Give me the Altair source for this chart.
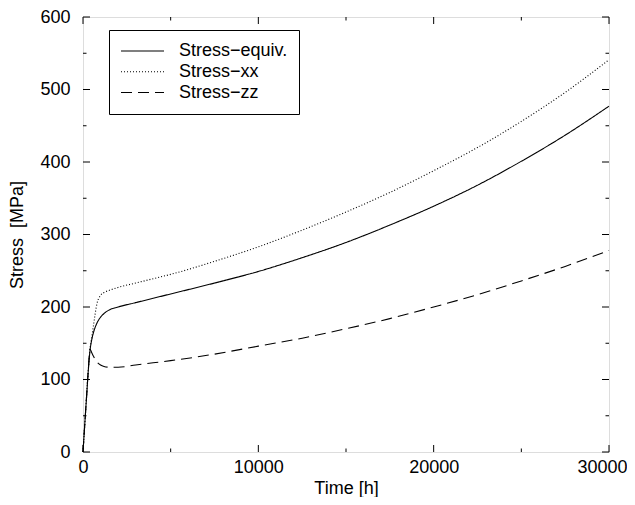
import altair as alt
import pandas as pd

# ---- data ----
time_h = [0, 100, 200, 300, 400, 500, 600, 800, 1000, 1200, 1500, 2000, 3000, 4000, 5000,
          7500, 10000, 12500, 15000, 17500, 20000, 22500, 25000, 27500, 30000]
stress_equiv = [0, 38, 75, 112, 140, 155, 165, 178, 186, 191, 196, 200, 206, 212, 218,
                233, 249, 268, 289, 313, 339, 368, 401, 437, 477]
stress_xx = [0, 38, 75, 112, 142, 158, 175, 205, 216, 220, 223, 227, 233, 239, 245,
             263, 283, 306, 331, 358, 388, 420, 456, 496, 541]
stress_zz = [0, 38, 75, 112, 142, 137, 132, 124, 120, 118, 117, 117, 120, 123, 126,
             135, 146, 157, 170, 184, 200, 217, 236, 256, 278]
series_names = ["Stress\u2212equiv.", "Stress\u2212xx", "Stress\u2212zz"]

x_major = [0, 10000, 20000, 30000]
x_minor = [5000, 15000, 25000]
y_major = [0, 100, 200, 300, 400, 500, 600]
y_minor = [50, 150, 250, 350, 450, 550]

# ---- styling ----
W, H = 526, 435
FONT = "Liberation Sans"
dashes = [[1, 0], [1, 2], [11, 6]]
MAJ, MIN = 7, 3.5

rows = []
for name, vals in zip(series_names, [stress_equiv, stress_xx, stress_zz]):
    for t, v in zip(time_h, vals):
        rows.append({"t": t, "s": v, "series": name})
df = pd.DataFrame(rows)

xscale = alt.Scale(domain=[0, 30000], nice=False, zero=False)
yscale = alt.Scale(domain=[0, 600], nice=False, zero=False)

x_axis = alt.Axis(values=x_major, format="d", title="Time [h]", grid=False,
                  ticks=False, tickSize=0, domain=False, labelFlush=False,
                  labelOverlap=False, labelFontSize=18, labelFont=FONT,
                  labelColor="black", labelPadding=6,
                  labelAlign={"expr": "datum.value == 30000 ? 'right' : 'center'"},
                  labelOffset={"expr": "datum.value == 30000 ? 18 : 0"},
                  titleFont=FONT, titleFontSize=18, titleFontWeight="normal",
                  titleColor="black", titlePadding=3)
y_axis = alt.Axis(values=y_major, format="d", title="Stress\u00a0\u00a0[MPa]", grid=False,
                  ticks=False, tickSize=0, domain=False, labelFlush=False,
                  labelOverlap=False, labelFontSize=18, labelFont=FONT,
                  labelColor="black", labelPadding=13,
                  titleFont=FONT, titleFontSize=18, titleFontWeight="normal",
                  titleColor="black", titlePadding=13)

lines = alt.Chart(df).mark_line(color="black", strokeWidth=1.1, interpolate="monotone").encode(
    x=alt.X("t:Q", scale=xscale, axis=x_axis),
    y=alt.Y("s:Q", scale=yscale, axis=y_axis),
    strokeDash=alt.StrokeDash("series:N",
                              scale=alt.Scale(domain=series_names, range=dashes),
                              sort=series_names,
                              legend=alt.Legend(orient="none", legendX=26, legendY=13,
                                                title=None, symbolType="stroke",
                                                symbolSize=1849, symbolStrokeWidth=1.1,
                                                symbolStrokeColor="black",
                                                labelFont=FONT, labelFontSize=18,
                                                labelColor="black", labelOffset=14,
                                                labelLimit=400, clipHeight=20,
                                                rowPadding=0.75, padding=11,
                                                strokeColor="black", fillColor="white")),
    order=alt.Order("t:Q"),
)


def xticks(vals, length, top):
    d = pd.DataFrame({"v": vals})
    if top:
        yy, yy2 = 0, length
    else:
        yy, yy2 = H, H - length
    return alt.Chart(d).mark_rule(color="black", strokeWidth=1).encode(
        x=alt.X("v:Q", scale=xscale, axis=x_axis),
        y=alt.value(yy), y2=alt.value(yy2))


def yticks(vals, length, right):
    d = pd.DataFrame({"v": vals})
    if right:
        xx, xx2 = W, W - length
    else:
        xx, xx2 = 0, length
    return alt.Chart(d).mark_rule(color="black", strokeWidth=1).encode(
        y=alt.Y("v:Q", scale=yscale, axis=y_axis),
        x=alt.value(xx), x2=alt.value(xx2))


tick_layers = [
    xticks(x_major, MAJ, False), xticks(x_minor, MIN, False),
    xticks(x_major, MAJ, True), xticks(x_minor, MIN, True),
    yticks(y_major, MAJ, False), yticks(y_minor, MIN, False),
    yticks(y_major, MAJ, True), yticks(y_minor, MIN, True),
]

chart = alt.layer(lines, *tick_layers).properties(
    width=W, height=H,
    padding={"left": 75, "top": 9, "right": 18, "bottom": 45},
    autosize=alt.AutoSizeParams(type="none"),
).configure_view(stroke="black", strokeWidth=1).configure(background="white")

chart.save("out.html", embed_options={"renderer": "svg", "actions": False})
